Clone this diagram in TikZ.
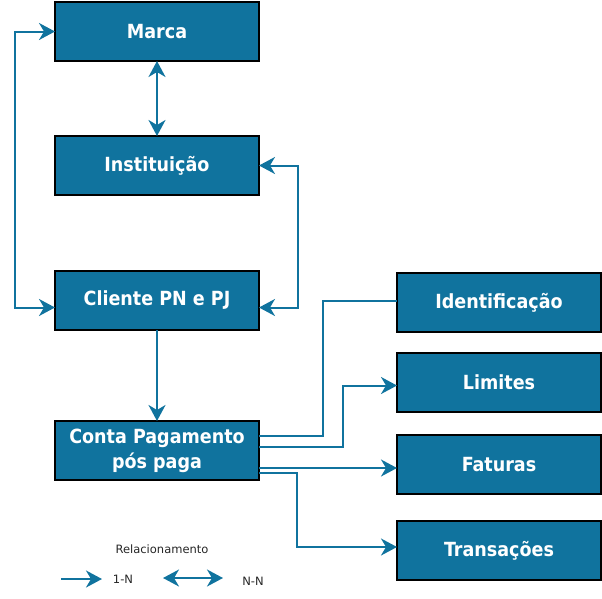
\documentclass[tikz,border=0pt]{standalone}
\usepackage{fontspec}
\setmainfont{DejaVu Sans}
\newfontfamily\boxfont{DejaVu Sans Condensed}
\usetikzlibrary{arrows.meta, calc}
\definecolor{boxblue}{HTML}{10739E}

\begin{document}
\begin{tikzpicture}[x = 1pt, y = -1pt,
  entity/.style = {draw = black, line width = 2pt, fill = boxblue, text = white,
    minimum width = 204pt, minimum height = 59pt, inner sep = 0pt, outer sep = 0pt,
    align = center, font = \boxfont\fontsize{19.5}{25}\selectfont\bfseries},
  link/.style = {draw = boxblue, line width = 2pt},
  one/.style = {link, -{Stealth[length = 16pt, width = 17pt, inset = 5pt]}},
  many/.style = {link, {Stealth[length = 16pt, width = 17pt, inset = 5pt]}-{Stealth[length = 16pt, width = 17pt, inset = 5pt]}},
  legend/.style = {font = \fontsize{11.5}{13}\selectfont, text = black!85}]
\useasboundingbox (0, 0) rectangle (602, 598);
\node[entity] (marca) at (157, 31.5) {Marca};
\node[entity] (inst) at (157, 165.5) {Instituição};
\node[entity] (cli) at (157, 300.5) {Cliente PN e PJ};
\node[entity] (conta) at (157, 450.5) {Conta Pagamento\\pós paga};
\node[entity] (ident) at (499, 302.5) {Identificação};
\node[entity] (lim) at (499, 382.5) {Limites};
\node[entity] (fat) at (499, 464.5) {Faturas};
\node[entity] (trans) at (499, 550.5) {Transações};
\draw[many] (marca.south) -- (inst.north);
\draw[many] ([yshift = -7pt]cli.west) -- ++(-40, 0) |- (marca.west);
\draw[many] (inst.east) -- ++(39, 0) |- ([yshift = -7pt]cli.east);
\draw[one] (cli.south) -- (conta.north);
\draw[link] ([yshift = 15pt]conta.east) -- ++(64, 0) |- ([yshift = 2pt]ident.west);
\draw[one] ([yshift = 3.5pt]conta.east) -- ++(84, 0) |- ([yshift = -3pt]lim.west);
\coordinate (fatin) at ([yshift = -3.5pt]fat.west);
\draw[one] (conta.east |- fatin) -- (fatin);
\draw[one] ([yshift = -22.5pt]conta.east) -- ++(38, 0) |- ([yshift = 3.5pt]trans.west);
\node[legend] (rel) at (162, 549) {Relacionamento};
\coordinate (onea) at (61, 579);
\coordinate (oneb) at (102, 579);
\draw[one] (onea) -- (oneb);
\node[legend] (onelab) at (123, 579) {1-N};
\coordinate (manya) at (163, 578);
\coordinate (manyb) at (223, 578);
\draw[many] (manya) -- (manyb);
\node[legend] (manylab) at (253, 581) {N-N};
\end{tikzpicture}
\end{document}
